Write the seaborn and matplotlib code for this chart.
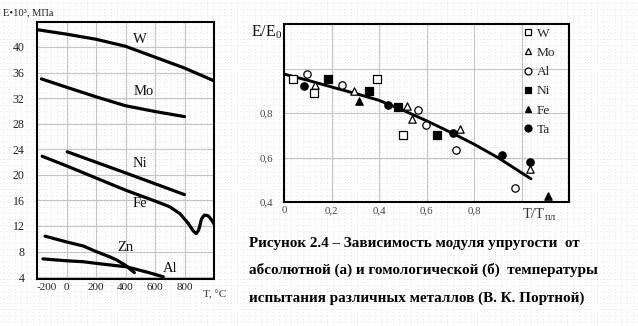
import matplotlib
matplotlib.use("Agg")
import matplotlib.pyplot as plt
import matplotlib.transforms as mtransforms
from matplotlib.lines import Line2D
import seaborn as sns
import pandas as pd

# ---------------- data: (a) E vs absolute temperature ----------------
w_t = [-200, 0, 200, 400, 600, 800, 1000]
w_e = [42.7, 42.0, 41.2, 40.1, 38.4, 36.7, 34.7]

mo_t = [-170, 0, 200, 400, 600, 800]
mo_e = [35.0, 33.7, 32.2, 30.8, 29.9, 29.1]

ni_t = [5, 400, 800]
ni_e = [23.6, 20.3, 16.9]

fe_t = [-165, 0, 200, 400, 600, 700, 770, 825, 860, 880, 895, 905, 915, 935, 960, 985, 1000]
fe_e = [22.9, 21.4, 19.5, 17.6, 15.9, 15.0, 13.9, 12.4, 11.2, 10.8, 11.3, 12.1, 13.1, 13.7, 13.6, 12.9, 12.3]

zn_t = [-145, 0, 114, 200, 300, 340, 400, 460]
zn_e = [10.4, 9.5, 8.86, 8.0, 7.1, 6.67, 5.85, 4.7]

al_t = [-160, 0, 114, 200, 408, 550, 656]
al_e = [6.85, 6.55, 6.4, 6.15, 5.6, 4.75, 4.05]

curve_labels = ["W", "Mo", "Ni", "Fe", "Zn", "Al"]
label_t = [498, 527, 498, 498, 397, 702]
label_e = [41.1, 33.0, 21.7, 15.5, 8.7, 5.4]

left_xticks = [-200, 0, 200, 400, 600, 800]
left_yticks = [4, 8, 12, 16, 20, 24, 28, 32, 36, 40]

# ---------------- data: (b) E/E0 vs homologous temperature ----------------
w_x = [0.039, 0.126, 0.390, 0.502]
w_y = [0.951, 0.891, 0.951, 0.699]
mo_x = [0.129, 0.295, 0.519, 0.540, 0.741, 1.036]
mo_y = [0.927, 0.897, 0.831, 0.774, 0.726, 0.549]
al_x = [0.096, 0.243, 0.566, 0.598, 0.724, 0.973]
al_y = [0.976, 0.927, 0.814, 0.747, 0.635, 0.464]
ni_x = [0.187, 0.359, 0.481, 0.646]
ni_y = [0.954, 0.901, 0.826, 0.702]
fe_x = [0.317, 1.113]
fe_y = [0.852, 0.426]
ta_x = [0.084, 0.437, 0.713, 0.917, 1.036]
ta_y = [0.920, 0.837, 0.711, 0.613, 0.579]

fit_x = [0.0, 0.1, 0.2, 0.3, 0.4, 0.5, 0.6, 0.7, 0.8, 0.9, 1.04]
fit_y = [0.975, 0.947, 0.917, 0.888, 0.857, 0.813, 0.765, 0.714, 0.660, 0.600, 0.504]

right_xticks = [0.0, 0.2, 0.4, 0.6, 0.8, 1.0]
right_xlabels = ["0", "0,2", "0,4", "0,6", "0,8", ""]
right_yticks = [0.4, 0.6, 0.8, 1.0]
right_ylabels = ["0,4", "0,6", "0,8", ""]

caption = [
    "Рисунок 2.4 – Зависимость модуля упругости  от",
    "абсолютной (а) и гомологической (б)  температуры",
    "испытания различных металлов (В. К. Портной)",
]

# ---------------- styling ----------------
sns.set_theme(style="white")
plt.rcParams["font.family"] = ["Liberation Serif", "DejaVu Serif"]
plt.rcParams["mathtext.fontset"] = "custom"
plt.rcParams["mathtext.rm"] = "Liberation Serif"
plt.rcParams["mathtext.it"] = "Liberation Serif:italic"

W, H = 638, 326
fig = plt.figure(figsize=(W / 100, H / 100), dpi=100)
fig.patch.set_facecolor("white")


def frac_rect(x0, y0, x1, y1):
    return [x0 / W, 1 - y1 / H, (x1 - x0) / W, (y1 - y0) / H]


# dotted drawing-canvas background
bg = fig.add_axes([0, 0, 1, 1], zorder=-10)
bg.set_xlim(0, W)
bg.set_ylim(H, 0)
bg.axis("off")
for yy in range(3, H, 6):
    bg.axhline(yy, color="#dadada", lw=0.6, ls=(0, (1, 3)))
for xx in range(3, W, 6):
    bg.axvline(xx, color="#dadada", lw=0.6, ls=(0, (1, 3)))

grid_kw = dict(color="#c4c4c4", lw=0.8, zorder=0)

# ---------------- panel (a) ----------------
ax1 = fig.add_axes(frac_rect(37, 22, 214, 279))
ax1.set_facecolor("none")
for t, e in [(w_t, w_e), (mo_t, mo_e), (ni_t, ni_e), (fe_t, fe_e), (zn_t, zn_e), (al_t, al_e)]:
    sns.lineplot(x=t, y=e, ax=ax1, color="black", lw=2.3, sort=False,
                 estimator=None, zorder=3)
for lab, t, e in zip(curve_labels, label_t, label_e):
    ax1.text(t, e, lab, fontsize=10.5, ha="center", va="center", color="#111111")

ax1.set_xlim(-200, 1000)
ax1.set_ylim(3.7, 43.9)
ax1.set_xticks(left_xticks)
ax1.set_yticks(left_yticks)
ax1.set_xticklabels([str(v) for v in left_xticks])
ax1.set_yticklabels([str(v) for v in left_yticks])
for v in left_xticks[1:]:
    ax1.axvline(v, **grid_kw)
for v in left_yticks:
    ax1.axhline(v, **grid_kw)
ax1.tick_params(axis="y", length=0, labelsize=8.6, colors="#222222", pad=9)
ax1.tick_params(axis="x", length=0, labelsize=8.0, colors="#222222", pad=3)
shift = mtransforms.ScaledTranslation(0.10, 0, fig.dpi_scale_trans)
first = ax1.get_xticklabels()[0]
first.set_transform(first.get_transform() + shift)
for s in ax1.spines.values():
    s.set_color("black")
    s.set_linewidth(1.5)
ax1.set_xlabel("")
ax1.set_ylabel("")

fig.text(3 / W, 1 - 13 / H, "E•10³, МПа", fontsize=7.6, ha="left", va="center", color="#222222")
fig.text(203 / W, 1 - 295 / H, "T, °C", fontsize=8, ha="left", va="center", color="#333333")

# ---------------- panel (b) ----------------
ax2 = fig.add_axes(frac_rect(284, 24, 569, 202))
ax2.set_facecolor("none")
for v in right_xticks[1:]:
    ax2.axvline(v, **grid_kw)
for v in right_yticks[1:]:
    ax2.axhline(v, **grid_kw)

sns.lineplot(x=fit_x, y=fit_y, ax=ax2, color="black", lw=2.1, sort=False,
             estimator=None, zorder=3)

series = [
    ("W", w_x, w_y, "s", "white"),
    ("Mo", mo_x, mo_y, "^", "white"),
    ("Al", al_x, al_y, "o", "white"),
    ("Ni", ni_x, ni_y, "s", "black"),
    ("Fe", fe_x, fe_y, "^", "black"),
    ("Ta", ta_x, ta_y, "o", "black"),
]
handles = []
for name, xs, ys, m, fc in series:
    df = pd.DataFrame({"x": xs, "y": ys})
    sns.scatterplot(data=df, x="x", y="y", ax=ax2, marker=m, s=28,
                    color=fc, edgecolor="black", linewidth=0.9, zorder=4)
    handles.append(Line2D([], [], ls="none", marker=m, markersize=5,
                          markerfacecolor=fc, markeredgecolor="black",
                          markeredgewidth=0.9, label=name))

leg = ax2.legend(handles=handles, loc="upper left",
                 bbox_to_anchor=((519 - 284) / 285, 1.0),
                 frameon=False, fontsize=9.6, handlelength=0.8,
                 handletextpad=0.3, labelspacing=0.52, borderaxespad=0.15,
                 borderpad=0.1)

ax2.set_xlim(0, 1.2)
ax2.set_ylim(0.4, 1.2)
ax2.set_xticks(right_xticks)
ax2.set_xticklabels(right_xlabels)
ax2.set_yticks(right_yticks)
ax2.set_yticklabels(right_ylabels)
ax2.tick_params(axis="both", length=0, labelsize=7.8, colors="#444444")
ax2.tick_params(axis="x", pad=3)
ax2.tick_params(axis="y", pad=8)
for s in ax2.spines.values():
    s.set_color("black")
    s.set_linewidth(1.5)
ax2.set_xlabel("")
ax2.set_ylabel("")

fig.text(267 / W, 1 - 32 / H, r"E/E$_0$", fontsize=11.5, ha="center", va="center", color="#111111")
fig.text(522 / W, 1 - 215 / H, r"T/T$_{\mathrm{пл}}$", fontsize=10.5, ha="left", va="center", color="#333333")

# ---------------- caption ----------------
for line, yc in zip(caption, [243, 270, 298]):
    fig.text(249 / W, 1 - yc / H, line, fontsize=10.9, fontweight="bold",
             ha="left", va="center", color="black")

fig.savefig("out.png", dpi=100)
